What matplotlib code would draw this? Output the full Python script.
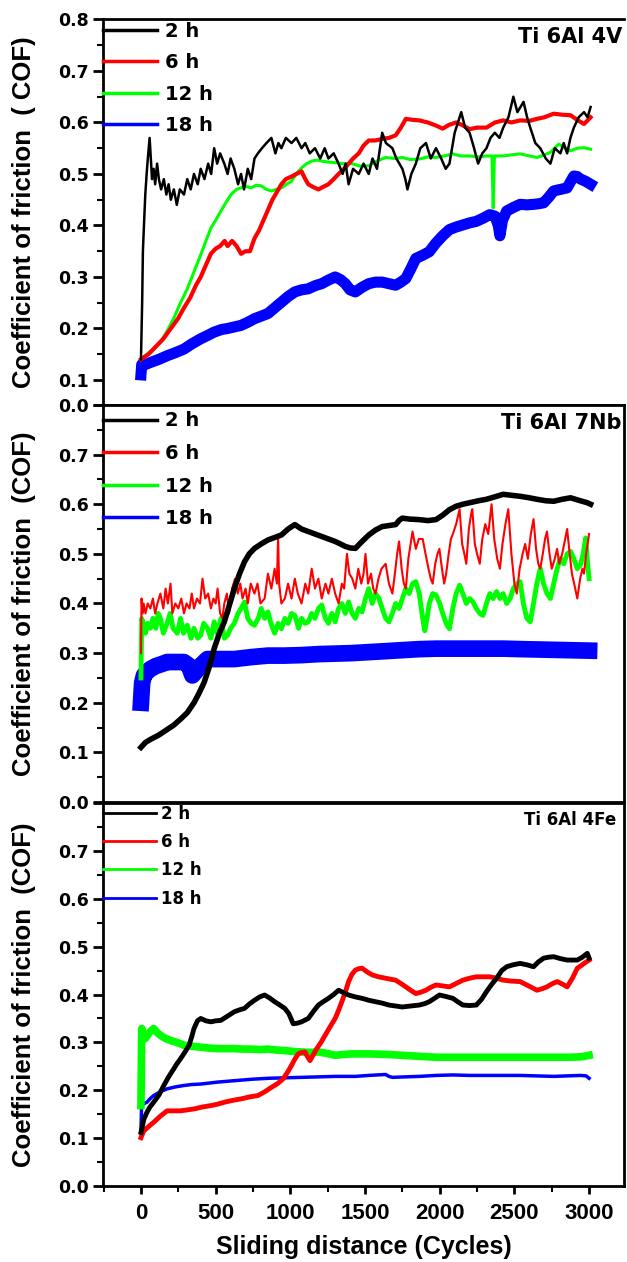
import matplotlib.pyplot as plt
import numpy as np
from matplotlib.ticker import FixedLocator, MultipleLocator

# ---- data: (cycles, COF) ----
# panel 1: Ti 6Al 4V
v_2h = [(0, 0.14), (8, 0.25), (13, 0.35), (20, 0.40), (29, 0.46), (38, 0.50), (46, 0.53), (58, 0.57),
        (66, 0.53), (74, 0.49), (85, 0.51), (95, 0.48), (108, 0.52), (120, 0.49), (135, 0.47), (153, 0.49),
        (170, 0.46), (185, 0.48), (200, 0.45), (220, 0.47), (240, 0.44), (260, 0.47), (288, 0.46), (310, 0.49),
        (333, 0.47), (355, 0.50), (380, 0.48), (400, 0.51), (425, 0.49), (450, 0.52), (470, 0.50), (490, 0.55),
        (510, 0.52), (530, 0.54), (558, 0.52), (580, 0.50), (600, 0.53), (625, 0.51), (650, 0.48), (670, 0.50),
        (690, 0.47), (715, 0.51), (738, 0.49), (760, 0.53), (783, 0.54), (810, 0.55), (840, 0.56), (873, 0.57),
        (900, 0.54), (920, 0.56), (940, 0.55), (970, 0.57), (1008, 0.56), (1040, 0.57), (1075, 0.55), (1100, 0.56),
        (1130, 0.54), (1165, 0.55), (1200, 0.53), (1230, 0.55), (1255, 0.53), (1290, 0.54), (1323, 0.52),
        (1350, 0.50), (1370, 0.52), (1390, 0.48), (1420, 0.51), (1458, 0.50), (1490, 0.52), (1525, 0.50),
        (1550, 0.53), (1580, 0.51), (1615, 0.58), (1640, 0.56), (1683, 0.55), (1710, 0.53), (1750, 0.51),
        (1770, 0.49), (1784, 0.47), (1810, 0.50), (1840, 0.52), (1870, 0.55), (1908, 0.56), (1940, 0.53),
        (1975, 0.55), (2010, 0.53), (2040, 0.51), (2065, 0.52), (2100, 0.58), (2144, 0.62), (2170, 0.59),
        (2200, 0.58), (2230, 0.55), (2257, 0.52), (2285, 0.54), (2313, 0.55), (2340, 0.57), (2369, 0.58),
        (2400, 0.57), (2425, 0.59), (2460, 0.61), (2493, 0.65), (2520, 0.62), (2561, 0.64), (2585, 0.61),
        (2606, 0.59), (2640, 0.56), (2673, 0.55), (2710, 0.53), (2741, 0.52), (2770, 0.55), (2808, 0.54),
        (2830, 0.56), (2853, 0.54), (2875, 0.57), (2898, 0.59), (2930, 0.61), (2966, 0.62), (2990, 0.61),
        (3010, 0.63)]
v_6h = [(0, 0.14), (50, 0.15), (100, 0.165), (150, 0.18), (200, 0.20), (250, 0.22), (288, 0.24), (330, 0.26),
        (370, 0.285), (400, 0.30), (430, 0.32), (468, 0.345), (500, 0.355), (530, 0.36), (560, 0.37), (580, 0.36),
        (610, 0.37), (640, 0.36), (670, 0.345), (700, 0.35), (730, 0.35), (760, 0.375), (790, 0.39), (820, 0.41),
        (850, 0.43), (880, 0.45), (910, 0.465), (940, 0.48), (970, 0.49), (1008, 0.495), (1040, 0.50),
        (1075, 0.505), (1100, 0.49), (1120, 0.48), (1150, 0.475), (1188, 0.47), (1220, 0.475), (1255, 0.48),
        (1290, 0.49), (1323, 0.50), (1360, 0.51), (1390, 0.52), (1420, 0.53), (1458, 0.54), (1490, 0.555),
        (1525, 0.565), (1570, 0.565), (1615, 0.568), (1660, 0.57), (1705, 0.575), (1740, 0.59), (1773, 0.607),
        (1820, 0.605), (1863, 0.604), (1920, 0.60), (1975, 0.594), (2020, 0.588), (2060, 0.595), (2110, 0.60),
        (2150, 0.595), (2200, 0.587), (2250, 0.59), (2313, 0.59), (2370, 0.60), (2425, 0.604), (2480, 0.60),
        (2538, 0.604), (2600, 0.603), (2651, 0.607), (2700, 0.61), (2763, 0.617), (2820, 0.615), (2876, 0.614),
        (2920, 0.605), (2966, 0.597), (3010, 0.61)]
v_12h = [(0, 0.14), (40, 0.15), (85, 0.16), (130, 0.173), (175, 0.195), (220, 0.22), (265, 0.25), (310, 0.277),
         (355, 0.31), (400, 0.343), (435, 0.37), (468, 0.395), (500, 0.41), (535, 0.428), (570, 0.445),
         (603, 0.46), (640, 0.47), (670, 0.473), (700, 0.476), (738, 0.473), (770, 0.478), (805, 0.477),
         (840, 0.47), (873, 0.467), (905, 0.47), (940, 0.473), (975, 0.48), (1008, 0.486), (1040, 0.50),
         (1075, 0.512), (1110, 0.52), (1143, 0.525), (1180, 0.527), (1210, 0.525), (1255, 0.523), (1300, 0.522),
         (1350, 0.52), (1413, 0.52), (1470, 0.515), (1525, 0.516), (1580, 0.525), (1638, 0.532), (1700, 0.53),
         (1750, 0.532), (1800, 0.528), (1863, 0.529), (1920, 0.533), (1975, 0.532), (2030, 0.535), (2088, 0.539),
         (2140, 0.535), (2200, 0.535), (2260, 0.533), (2313, 0.535), (2350, 0.535), (2358, 0.434), (2366, 0.535),
         (2425, 0.535), (2480, 0.537), (2538, 0.539), (2600, 0.535), (2651, 0.532), (2700, 0.537), (2741, 0.542),
         (2797, 0.558), (2840, 0.55), (2876, 0.545), (2920, 0.55), (2966, 0.551), (3010, 0.548)]
v_18h = [(0, 0.11), (5, 0.13), (30, 0.13), (63, 0.134), (120, 0.14), (175, 0.147), (230, 0.153), (288, 0.16),
         (340, 0.17), (400, 0.18), (450, 0.187), (490, 0.193), (540, 0.198), (580, 0.20), (625, 0.203),
         (670, 0.206), (715, 0.212), (760, 0.219), (805, 0.224), (850, 0.229), (895, 0.24), (940, 0.251),
         (985, 0.262), (1030, 0.271), (1075, 0.275), (1120, 0.277), (1165, 0.283), (1210, 0.287), (1255, 0.294),
         (1300, 0.30), (1335, 0.295), (1368, 0.287), (1400, 0.275), (1435, 0.271), (1480, 0.28), (1525, 0.287),
         (1570, 0.29), (1615, 0.29), (1660, 0.287), (1705, 0.284), (1740, 0.29), (1773, 0.297), (1805, 0.315),
         (1840, 0.336), (1885, 0.342), (1930, 0.349), (1975, 0.366), (2020, 0.38), (2065, 0.392), (2110, 0.397),
         (2155, 0.401), (2200, 0.405), (2245, 0.408), (2290, 0.414), (2335, 0.421), (2370, 0.418), (2392, 0.40),
         (2403, 0.38), (2420, 0.41), (2448, 0.428), (2493, 0.435), (2538, 0.441), (2583, 0.44), (2628, 0.441),
         (2660, 0.442), (2696, 0.444), (2730, 0.455), (2763, 0.467), (2808, 0.47), (2853, 0.473), (2876, 0.485),
         (2898, 0.496), (2920, 0.495), (2943, 0.49), (2975, 0.486), (3010, 0.48)]

# panel 2: Ti 6Al 7Nb
nb_2h = [(0, 0.11), (30, 0.12), (63, 0.126), (120, 0.135), (175, 0.146), (220, 0.155), (265, 0.167), (310, 0.18),
         (355, 0.20), (390, 0.22), (423, 0.241), (455, 0.27), (490, 0.309), (525, 0.34), (558, 0.363),
         (590, 0.395), (625, 0.43), (660, 0.46), (693, 0.484), (725, 0.50), (760, 0.511), (805, 0.52),
         (850, 0.528), (895, 0.533), (940, 0.538), (985, 0.55), (1030, 0.559), (1075, 0.55), (1120, 0.545),
         (1165, 0.54), (1210, 0.535), (1255, 0.53), (1300, 0.525), (1335, 0.52), (1368, 0.515), (1400, 0.512),
         (1435, 0.511), (1480, 0.525), (1525, 0.538), (1570, 0.548), (1615, 0.555), (1660, 0.557), (1705, 0.559),
         (1730, 0.568), (1750, 0.572), (1800, 0.57), (1863, 0.569), (1920, 0.567), (1975, 0.569), (2020, 0.578),
         (2065, 0.589), (2110, 0.596), (2155, 0.60), (2200, 0.603), (2260, 0.607), (2313, 0.61), (2370, 0.615),
         (2425, 0.62), (2480, 0.618), (2538, 0.616), (2600, 0.613), (2651, 0.61), (2710, 0.607), (2763, 0.606),
         (2820, 0.61), (2876, 0.613), (2930, 0.608), (2988, 0.603), (3010, 0.60)]
nb_6h = [(0, 0.30), (4, 0.41), (10, 0.38), (18, 0.40), (30, 0.38), (45, 0.40), (63, 0.39), (80, 0.41), (95, 0.38),
         (110, 0.40), (130, 0.42), (150, 0.39), (165, 0.43), (180, 0.40), (198, 0.44), (210, 0.38), (230, 0.40),
         (250, 0.39), (270, 0.41), (288, 0.38), (305, 0.40), (325, 0.39), (340, 0.42), (355, 0.39), (375, 0.41),
         (395, 0.40), (412, 0.45), (430, 0.41), (450, 0.42), (468, 0.39), (485, 0.41), (500, 0.40), (513, 0.43),
         (530, 0.38), (545, 0.37), (558, 0.40), (575, 0.42), (590, 0.38), (610, 0.43), (630, 0.45), (648, 0.42),
         (665, 0.44), (680, 0.41), (700, 0.43), (715, 0.40), (735, 0.44), (760, 0.42), (780, 0.44), (800, 0.40),
         (828, 0.41), (850, 0.46), (873, 0.43), (895, 0.47), (910, 0.44), (918, 0.535), (925, 0.44), (940, 0.40),
         (963, 0.41), (985, 0.44), (1008, 0.41), (1030, 0.45), (1050, 0.42), (1075, 0.40), (1100, 0.44),
         (1120, 0.42), (1143, 0.47), (1165, 0.43), (1188, 0.45), (1210, 0.41), (1235, 0.44), (1255, 0.42),
         (1278, 0.45), (1300, 0.42), (1323, 0.40), (1345, 0.44), (1360, 0.43), (1379, 0.50), (1395, 0.46),
         (1415, 0.45), (1435, 0.43), (1455, 0.47), (1475, 0.44), (1490, 0.46), (1503, 0.50), (1520, 0.44),
         (1540, 0.46), (1555, 0.43), (1570, 0.42), (1590, 0.45), (1610, 0.47), (1638, 0.48), (1660, 0.44),
         (1683, 0.42), (1700, 0.46), (1715, 0.50), (1728, 0.525), (1745, 0.47), (1760, 0.44), (1773, 0.43),
         (1790, 0.49), (1805, 0.52), (1818, 0.545), (1840, 0.51), (1860, 0.53), (1886, 0.53), (1905, 0.50),
         (1925, 0.47), (1940, 0.45), (1953, 0.44), (1970, 0.48), (1985, 0.50), (1998, 0.51), (2015, 0.47),
         (2030, 0.44), (2043, 0.46), (2060, 0.50), (2075, 0.53), (2088, 0.54), (2110, 0.56), (2133, 0.59),
         (2150, 0.52), (2165, 0.50), (2178, 0.48), (2195, 0.55), (2210, 0.58), (2218, 0.59), (2235, 0.52),
         (2250, 0.50), (2268, 0.48), (2285, 0.53), (2305, 0.56), (2325, 0.54), (2347, 0.60), (2365, 0.53),
         (2385, 0.49), (2403, 0.47), (2420, 0.52), (2440, 0.56), (2459, 0.59), (2480, 0.50), (2500, 0.44),
         (2516, 0.42), (2535, 0.47), (2555, 0.50), (2572, 0.52), (2590, 0.49), (2610, 0.54), (2628, 0.57),
         (2645, 0.51), (2660, 0.48), (2673, 0.47), (2690, 0.50), (2705, 0.53), (2718, 0.545), (2735, 0.50),
         (2750, 0.47), (2770, 0.49), (2786, 0.51), (2800, 0.48), (2820, 0.50), (2840, 0.53), (2853, 0.55),
         (2870, 0.50), (2885, 0.46), (2900, 0.44), (2921, 0.41), (2940, 0.45), (2955, 0.47), (2966, 0.46),
         (2980, 0.50), (2990, 0.52), (3000, 0.54)]
nb_12h = [(0, 0.25), (5, 0.37), (15, 0.36), (30, 0.34), (45, 0.36), (63, 0.35), (80, 0.37), (100, 0.35),
          (115, 0.38), (130, 0.37), (150, 0.34), (175, 0.36), (195, 0.38), (215, 0.35), (243, 0.34), (265, 0.37),
          (285, 0.34), (310, 0.356), (335, 0.33), (355, 0.35), (380, 0.33), (400, 0.336), (420, 0.36),
          (445, 0.35), (468, 0.33), (490, 0.363), (510, 0.34), (535, 0.37), (558, 0.33), (580, 0.336),
          (600, 0.35), (625, 0.36), (650, 0.38), (670, 0.39), (693, 0.403), (715, 0.37), (738, 0.36),
          (760, 0.356), (785, 0.37), (805, 0.39), (828, 0.37), (850, 0.383), (870, 0.36), (895, 0.34),
          (918, 0.36), (940, 0.349), (963, 0.37), (985, 0.36), (1008, 0.38), (1030, 0.376), (1055, 0.35),
          (1075, 0.37), (1100, 0.36), (1120, 0.363), (1143, 0.38), (1165, 0.37), (1188, 0.39), (1210, 0.397),
          (1235, 0.37), (1255, 0.36), (1278, 0.38), (1300, 0.363), (1323, 0.39), (1345, 0.40), (1368, 0.38),
          (1390, 0.403), (1413, 0.38), (1435, 0.37), (1458, 0.39), (1480, 0.383), (1503, 0.41), (1525, 0.43),
          (1548, 0.40), (1570, 0.42), (1593, 0.41), (1615, 0.39), (1638, 0.37), (1660, 0.363), (1683, 0.38),
          (1705, 0.40), (1728, 0.39), (1750, 0.41), (1773, 0.43), (1795, 0.42), (1818, 0.44), (1840, 0.444),
          (1863, 0.42), (1886, 0.37), (1900, 0.345), (1915, 0.37), (1930, 0.40), (1953, 0.42), (1975, 0.417),
          (2000, 0.40), (2020, 0.38), (2043, 0.36), (2065, 0.349), (2088, 0.39), (2110, 0.42), (2133, 0.437),
          (2155, 0.42), (2178, 0.40), (2200, 0.41), (2223, 0.403), (2245, 0.39), (2268, 0.38), (2290, 0.376),
          (2313, 0.40), (2335, 0.42), (2358, 0.41), (2381, 0.424), (2403, 0.41), (2425, 0.42), (2448, 0.40),
          (2471, 0.41), (2493, 0.43), (2516, 0.44), (2538, 0.444), (2560, 0.40), (2583, 0.37), (2606, 0.363),
          (2628, 0.40), (2650, 0.44), (2673, 0.471), (2695, 0.44), (2718, 0.42), (2741, 0.41), (2763, 0.44),
          (2786, 0.47), (2808, 0.491), (2830, 0.48), (2853, 0.50), (2876, 0.505), (2898, 0.49), (2921, 0.47),
          (2943, 0.478), (2960, 0.50), (2977, 0.532), (2990, 0.48), (3000, 0.45)]
nb_18h = [(0, 0.20), (8, 0.24), (20, 0.255), (40, 0.262), (63, 0.268), (100, 0.274), (140, 0.278), (175, 0.282),
          (230, 0.282), (288, 0.282), (320, 0.275), (344, 0.255), (365, 0.262), (400, 0.275), (445, 0.288),
          (520, 0.288), (625, 0.288), (740, 0.292), (850, 0.295), (960, 0.295), (1075, 0.296), (1190, 0.298),
          (1300, 0.299), (1410, 0.30), (1525, 0.302), (1640, 0.304), (1750, 0.306), (1860, 0.308), (1975, 0.309),
          (2100, 0.309), (2200, 0.309), (2325, 0.309), (2425, 0.309), (2550, 0.308), (2700, 0.307),
          (2850, 0.306), (3000, 0.305)]

# panel 3: Ti 6Al 4Fe
fe_2h = [(0, 0.112), (20, 0.14), (40, 0.154), (60, 0.165), (85, 0.175), (120, 0.19), (153, 0.21), (185, 0.228),
         (220, 0.245), (240, 0.255), (265, 0.266), (295, 0.28), (322, 0.294), (340, 0.312), (355, 0.329),
         (378, 0.345), (400, 0.35), (435, 0.345), (468, 0.343), (500, 0.345), (535, 0.346), (580, 0.355),
         (625, 0.364), (660, 0.368), (693, 0.371), (725, 0.38), (760, 0.388), (795, 0.395), (828, 0.399),
         (860, 0.393), (895, 0.385), (930, 0.378), (963, 0.371), (990, 0.36), (1019, 0.339), (1045, 0.34),
         (1075, 0.343), (1100, 0.347), (1120, 0.35), (1155, 0.365), (1188, 0.378), (1220, 0.385), (1255, 0.392),
         (1290, 0.40), (1323, 0.409), (1355, 0.404), (1390, 0.399), (1435, 0.395), (1480, 0.392), (1525, 0.388),
         (1570, 0.385), (1615, 0.382), (1660, 0.378), (1705, 0.376), (1750, 0.374), (1805, 0.376), (1863, 0.378),
         (1900, 0.381), (1930, 0.385), (1965, 0.392), (1998, 0.399), (2040, 0.396), (2088, 0.392), (2120, 0.385),
         (2155, 0.378), (2200, 0.377), (2245, 0.378), (2280, 0.39), (2313, 0.406), (2345, 0.42), (2381, 0.434),
         (2415, 0.45), (2448, 0.458), (2490, 0.462), (2538, 0.465), (2585, 0.462), (2628, 0.458), (2660, 0.468),
         (2696, 0.476), (2730, 0.478), (2763, 0.479), (2808, 0.475), (2853, 0.472), (2890, 0.472), (2921, 0.472),
         (2955, 0.478), (2988, 0.486), (3000, 0.476)]
fe_6h = [(0, 0.101), (18, 0.115), (50, 0.124), (85, 0.133), (130, 0.146), (175, 0.157), (220, 0.157), (265, 0.157),
         (310, 0.159), (355, 0.161), (410, 0.165), (468, 0.168), (513, 0.171), (558, 0.175), (615, 0.179),
         (670, 0.182), (725, 0.186), (783, 0.189), (830, 0.197), (873, 0.206), (915, 0.214), (952, 0.224),
         (980, 0.237), (1008, 0.252), (1030, 0.265), (1053, 0.276), (1075, 0.279), (1098, 0.28), (1115, 0.27),
         (1132, 0.262), (1155, 0.275), (1177, 0.287), (1205, 0.30), (1233, 0.315), (1265, 0.332), (1300, 0.35),
         (1323, 0.367), (1345, 0.385), (1368, 0.405), (1390, 0.427), (1412, 0.442), (1435, 0.451), (1458, 0.454),
         (1480, 0.455), (1515, 0.447), (1548, 0.441), (1590, 0.437), (1638, 0.434), (1670, 0.432), (1705, 0.43),
         (1740, 0.423), (1773, 0.416), (1805, 0.409), (1840, 0.402), (1875, 0.405), (1908, 0.409), (1940, 0.415),
         (1975, 0.42), (2020, 0.418), (2065, 0.416), (2110, 0.423), (2155, 0.43), (2200, 0.434), (2245, 0.437),
         (2290, 0.437), (2335, 0.437), (2380, 0.434), (2425, 0.43), (2480, 0.428), (2538, 0.427), (2595, 0.418),
         (2651, 0.409), (2685, 0.412), (2718, 0.416), (2750, 0.422), (2786, 0.427), (2820, 0.422), (2853, 0.416),
         (2890, 0.435), (2921, 0.455), (2945, 0.46), (2966, 0.465), (3000, 0.472)]
fe_12h = [(0, 0.168), (5, 0.329), (15, 0.31), (29, 0.308), (55, 0.32), (85, 0.329), (110, 0.32), (130, 0.315),
          (165, 0.308), (198, 0.304), (240, 0.30), (288, 0.294), (340, 0.292), (400, 0.29), (460, 0.288),
          (513, 0.287), (570, 0.287), (625, 0.287), (680, 0.286), (738, 0.286), (800, 0.285), (850, 0.286),
          (905, 0.284), (963, 0.283), (1020, 0.281), (1075, 0.28), (1130, 0.279), (1188, 0.28), (1245, 0.277),
          (1300, 0.273), (1360, 0.275), (1413, 0.276), (1470, 0.276), (1525, 0.276), (1640, 0.275), (1750, 0.273),
          (1860, 0.271), (1975, 0.269), (2090, 0.269), (2200, 0.269), (2310, 0.269), (2425, 0.269), (2540, 0.269),
          (2651, 0.269), (2760, 0.269), (2876, 0.269), (2950, 0.27), (3000, 0.273)]
fe_18h = [(0, 0.112), (4, 0.168), (20, 0.172), (40, 0.175), (60, 0.182), (85, 0.189), (130, 0.197), (175, 0.203),
          (230, 0.207), (288, 0.21), (340, 0.212), (400, 0.213), (510, 0.217), (625, 0.22), (740, 0.223),
          (850, 0.225), (960, 0.226), (1075, 0.227), (1190, 0.228), (1300, 0.229), (1435, 0.229), (1525, 0.231),
          (1638, 0.233), (1660, 0.229), (1683, 0.227), (1770, 0.228), (1863, 0.229), (1975, 0.231), (2088, 0.232),
          (2200, 0.231), (2313, 0.231), (2425, 0.231), (2538, 0.231), (2650, 0.23), (2763, 0.229), (2850, 0.23),
          (2943, 0.231), (2980, 0.23), (3000, 0.225)]

labels = ['2 h', '6 h', '12 h', '18 h']
colors = ['black', '#ff0000', '#00ff00', '#0000ff']

panels = [
    dict(series=[v_2h, v_6h, v_12h, v_18h], widths=[1.8, 3.0, 2.2, 8.0], title='Ti 6Al 4V',
         ylabel='Coefficient of friction  ( COF)', rect=[0.1643, 0.6787, 0.831, 0.3059]),
    dict(series=[nb_2h, nb_6h, nb_12h, nb_18h], widths=[4.0, 1.5, 3.5, 12.0], title='Ti 6Al 7Nb',
         ylabel='Coefficient of friction  (COF)', rect=[0.1643, 0.3645, 0.831, 0.3146]),
    dict(series=[fe_2h, fe_6h, fe_12h, fe_18h], widths=[3.5, 3.5, 5.5, 2.5], title='Ti 6Al 4Fe',
         ylabel='Coefficient of friction  (COF)', rect=[0.1643, 0.0602, 0.831, 0.3035]),
]
# legend placement per panel: (anchor y, handle length, text pad, row spacing, font size, line width)
legend_style = [(0.994, 2.8, 0.4, 0.64, 14, 2.5),
                (0.984, 2.8, 0.4, 0.70, 14, 2.5),
                (0.996, 3.2, 0.3, 0.62, 12, 2.0)]

plt.rcParams['font.family'] = 'DejaVu Sans'
plt.rcParams['font.weight'] = 'bold'

fig = plt.figure(figsize=(6.27, 12.62), dpi=100)

for i, p in enumerate(panels):
    ax = fig.add_axes(p['rect'])
    handles = []
    for k, (data, lab, col, lw) in enumerate(zip(p['series'], labels, colors, p['widths'])):
        arr = np.array(data)
        ln, = ax.plot(arr[:, 0], arr[:, 1], color=col, lw=lw, label=lab, zorder=10 - k,
                      solid_joinstyle='round')
        handles.append(ln)

    ax.set_xlim(-254, 3234)
    if i == 0:
        ax.set_ylim(0.0505, 0.8)
        ax.yaxis.set_major_locator(FixedLocator([0.0505] + [round(0.1 * t, 1) for t in range(1, 9)]))
        ax.set_yticklabels(['0.0'] + ['%.1f' % (0.1 * t) for t in range(1, 9)])
        ax.yaxis.set_minor_locator(FixedLocator([0.05 + 0.1 * t for t in range(1, 8)]))
        ax.spines['right'].set_visible(False)
    else:
        ax.set_ylim(0, 0.8)
        ax.yaxis.set_major_locator(FixedLocator([round(0.1 * t, 1) for t in range(9)]))
        ax.set_yticklabels(['%.1f' % (0.1 * t) for t in range(8)] + [''])
        ax.yaxis.set_minor_locator(FixedLocator([0.05 + 0.1 * t for t in range(8)]))

    for s in ax.spines.values():
        s.set_linewidth(2)
    ax.tick_params(axis='y', which='major', direction='out', length=7, width=2, labelsize=12.5, pad=3)
    ax.tick_params(axis='y', which='minor', direction='out', length=4, width=1.5)

    if i < 2:
        ax.tick_params(axis='x', which='both', bottom=False, labelbottom=False)
    else:
        ax.xaxis.set_major_locator(MultipleLocator(500))
        ax.xaxis.set_minor_locator(MultipleLocator(250))
        ax.tick_params(axis='x', which='major', direction='out', length=6, width=2, labelsize=16, pad=6)
        ax.tick_params(axis='x', which='minor', direction='out', length=4, width=1.5)
        for t in ax.get_xticklabels():
            t.set_family('Liberation Sans')
        ax.set_xlabel('Sliding distance (Cycles)', fontsize=18, fontweight='bold',
                      family='Liberation Sans', labelpad=8)

    ax.set_ylabel(p['ylabel'], fontsize=18.5, fontweight='bold', family='Liberation Sans')
    ax.yaxis.set_label_coords(-0.128, 0.5)

    if i < 2:
        ax.text(0.996, 0.981, p['title'], transform=ax.transAxes, ha='right', va='top',
                fontsize=15, fontweight='bold')
    else:
        ax.text(0.985, 0.979, p['title'], transform=ax.transAxes, ha='right', va='top',
                fontsize=12, fontweight='bold')

    ay, hl, tp, ls, fs, llw = legend_style[i]
    leg = ax.legend(handles=handles, loc='upper left', bbox_to_anchor=(0, ay), frameon=False,
                    borderaxespad=0, borderpad=0, handlelength=hl, handletextpad=tp,
                    labelspacing=ls, prop=dict(size=fs, weight='bold'))
    for ll in leg.get_lines():
        ll.set_linewidth(llw)

fig.savefig('out.png', dpi=100)
